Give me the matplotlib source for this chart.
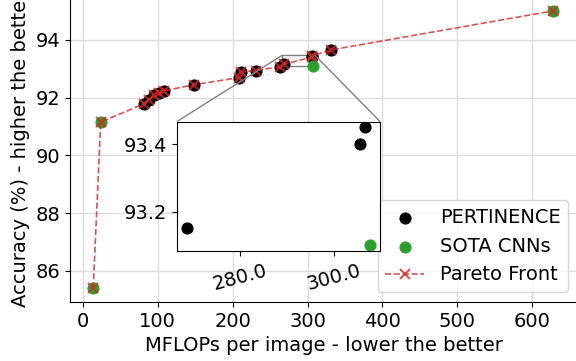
import matplotlib.pyplot as plt
from mpl_toolkits.axes_grid1.inset_locator import mark_inset

plt.rcParams['font.size'] = 14

# PERTINENCE models (MFLOPs, top-1 accuracy)
pert_flops = [81.8, 88.4, 95.0, 101.8, 108.4, 148.4, 208.4, 210.7, 230.7,
              263.5, 268.5, 305.6, 306.6, 332.0]
pert_acc = [91.78, 91.92, 92.09, 92.15, 92.23, 92.44, 92.69, 92.88, 92.93,
            93.07, 93.15, 93.40, 93.45, 93.65]

# state-of-the-art CNNs
sota_flops = [14.0, 24.0, 307.6, 628.0]
sota_acc = [85.40, 91.15, 93.10, 95.00]

# non-dominated points, sorted by cost
pareto_flops = [14.0, 24.0, 81.8, 88.4, 95.0, 101.8, 108.4, 148.4, 208.4,
                210.7, 230.7, 263.5, 268.5, 305.6, 306.6, 332.0, 628.0]
pareto_acc = [85.40, 91.15, 91.78, 91.92, 92.09, 92.15, 92.23, 92.44, 92.69,
              92.88, 92.93, 93.07, 93.15, 93.40, 93.45, 93.65, 95.00]

fig = plt.figure(figsize=(5.76, 3.61), dpi=100)
ax = fig.add_axes([70 / 576, 59 / 361, 508 / 576, 305 / 361])

ax.grid(True, color='#dddddd', linewidth=1)
ax.set_axisbelow(True)
ax.scatter(pert_flops, pert_acc, color='black', s=60, label='PERTINENCE', zorder=2)
ax.scatter(sota_flops, sota_acc, color='tab:green', s=60, label='SOTA CNNs', zorder=2)
ax.plot(pareto_flops, pareto_acc, linestyle='--', marker='x', color='tab:red',
        alpha=0.8, markersize=7, markeredgewidth=1.5, linewidth=1.2,
        label='Pareto Front', zorder=3)

ax.set_xlim(-17, 661)
ax.set_ylim(84.92, 95.48)
ax.set_xticks([0, 100, 200, 300, 400, 500, 600])
ax.set_yticks([86, 88, 90, 92, 94])
ax.set_xlabel('MFLOPs per image - lower the better')
ax.set_ylabel('Accuracy (%) - higher the better')
ax.legend(loc='lower right', borderaxespad=0.5)

# zoom on the 270-310 MFLOPs region
axins = fig.add_axes([177 / 576, 110 / 361, 203 / 576, 129.5 / 361])
axins.scatter(pert_flops, pert_acc, color='black', s=60)
axins.scatter(sota_flops, sota_acc, color='tab:green', s=60)
axins.set_xlim(266.45, 309.8)
axins.set_ylim(93.083, 93.467)
axins.set_xticks([280, 300])
axins.set_xticklabels(['280.0', '300.0'], rotation=15)
axins.set_yticks([93.2, 93.4])
axins.set_yticklabels(['93.2', '93.4'])
mark_inset(ax, axins, loc1=1, loc2=2, fc='none', ec='0.5')

fig.savefig('out.png', dpi=100)
